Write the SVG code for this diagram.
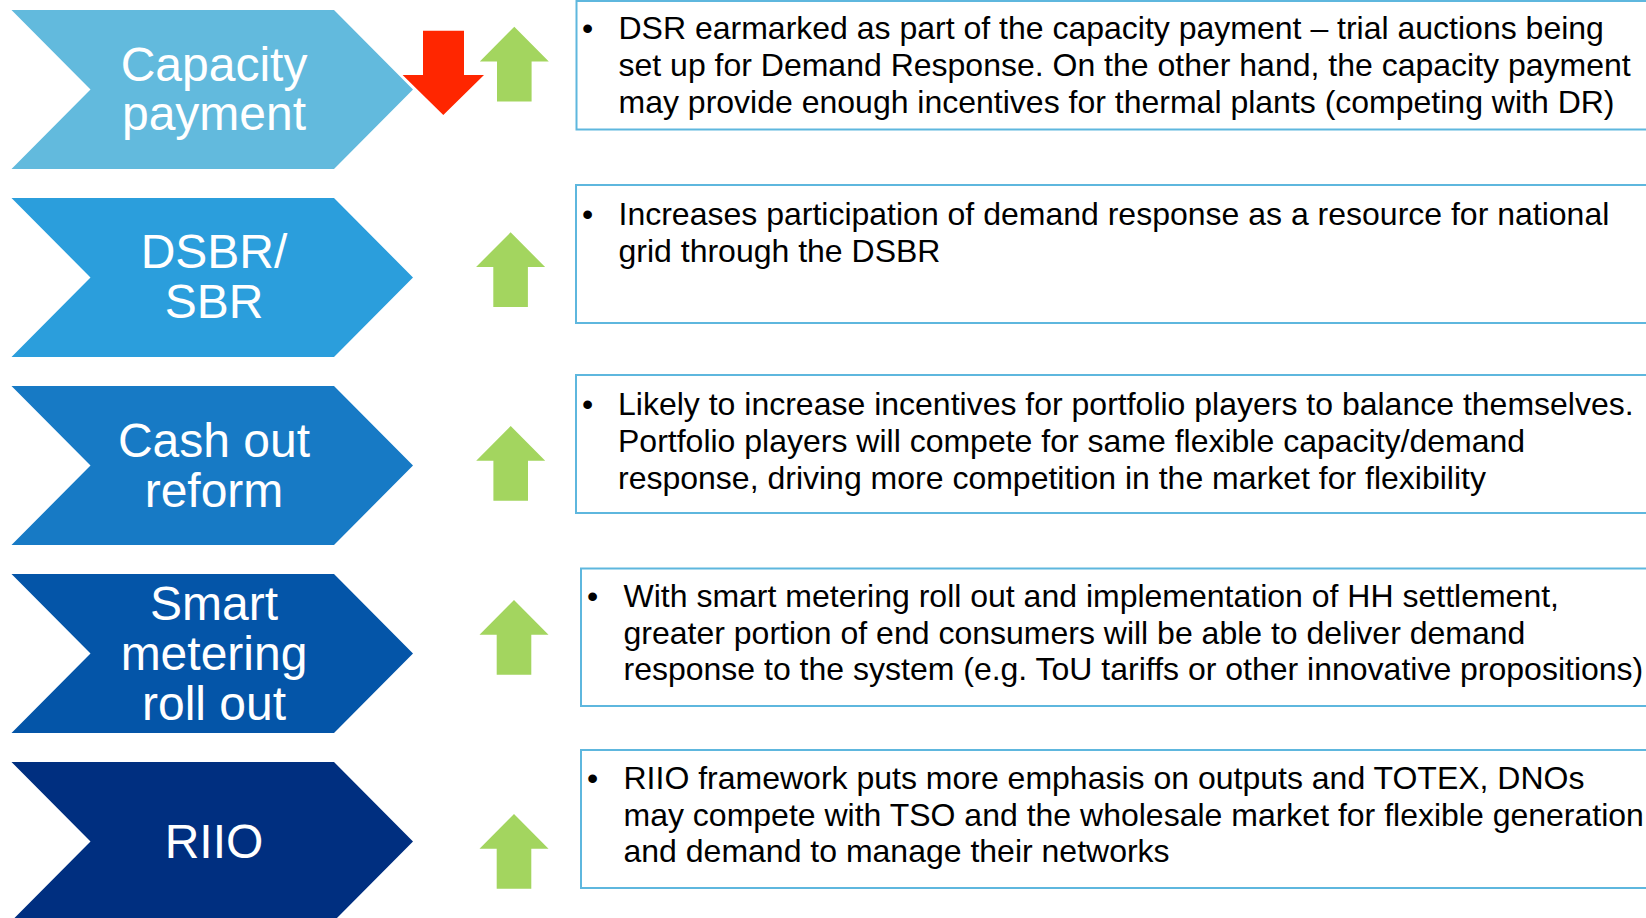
<svg xmlns="http://www.w3.org/2000/svg" xmlns:xlink="http://www.w3.org/1999/xlink" width="1646" height="918" viewBox="0 0 1646 918">
  <style>
    .lbl { font-family: "Liberation Sans", Arial, sans-serif; font-size: 48px; fill: #FFFFFF; text-anchor: middle; }
    .box { fill: #FFFFFF; stroke: #5EB7DE; stroke-width: 2; }
    .txt { font-family: "Liberation Sans", Arial, sans-serif; font-size: 32px; fill: #000000; }
    .up { fill: #A3D55F; }
    .down { fill: #FF2600; }
  </style>
  <defs>
    <path id="chev" d="M11.5,0 L334,0 L413,79.5 L334,159 L11.5,159 L90.5,79.5 Z"/>
    <path id="uparrow" d="M0,0 L34.5,34.7 L17.3,34.7 L17.3,74.7 L-17.3,74.7 L-17.3,34.7 L-34.5,34.7 Z"/>
  </defs>
  <rect width="1646" height="918" fill="#FFFFFF"/>

  <g id="node-capacity">
    <use xlink:href="#chev" href="#chev" x="0" y="10" fill="#62BADD"/>
    <text class="lbl" x="214" y="81">Capacity</text>
    <text class="lbl" x="214" y="130">payment</text>
  </g>
  <g id="node-dsbr">
    <use xlink:href="#chev" href="#chev" x="0" y="198" fill="#2B9EDC"/>
    <text class="lbl" x="214" y="268">DSBR/</text>
    <text class="lbl" x="214" y="318">SBR</text>
  </g>
  <g id="node-cashout">
    <use xlink:href="#chev" href="#chev" x="0" y="386" fill="#177AC5"/>
    <text class="lbl" x="214" y="457">Cash out</text>
    <text class="lbl" x="214" y="507">reform</text>
  </g>
  <g id="node-smart">
    <use xlink:href="#chev" href="#chev" x="0" y="574" fill="#0455A8"/>
    <text class="lbl" x="214" y="620">Smart</text>
    <text class="lbl" x="214" y="670">metering</text>
    <text class="lbl" x="214" y="720">roll out</text>
  </g>
  <g id="node-riio">
    <use xlink:href="#chev" href="#chev" x="0" y="762" fill="#002F80"/>
    <text class="lbl" x="214" y="858">RIIO</text>
  </g>

  <g id="arrow-down-capacity">
    <path class="down" d="M423,30.7 H464 V75 H484 L443.3,115 L402.6,75 H423 Z"/>
  </g>
  <g id="arrow-up-capacity"><use xlink:href="#uparrow" href="#uparrow" class="up" x="514.3" y="26.7"/></g>
  <g id="arrow-up-dsbr"><use xlink:href="#uparrow" href="#uparrow" class="up" x="510.6" y="232.3"/></g>
  <g id="arrow-up-cashout"><use xlink:href="#uparrow" href="#uparrow" class="up" x="510.7" y="426"/></g>
  <g id="arrow-up-smart"><use xlink:href="#uparrow" href="#uparrow" class="up" x="514" y="600"/></g>
  <g id="arrow-up-riio"><use xlink:href="#uparrow" href="#uparrow" class="up" x="514" y="814"/></g>

  <g id="box-capacity">
    <rect class="box" x="576.5" y="1" width="1090" height="128.5"/>
    <text class="txt" x="582" y="38.5">•</text>
    <text class="txt" x="618.5" y="38.5">DSR earmarked as part of the capacity payment – trial auctions being</text>
    <text class="txt" x="618.5" y="75.5">set up for Demand Response. On the other hand, the capacity payment</text>
    <text class="txt" x="618.5" y="112.5">may provide enough incentives for thermal plants (competing with DR)</text>
  </g>
  <g id="box-dsbr">
    <rect class="box" x="576" y="185" width="1090" height="138"/>
    <text class="txt" x="582" y="225">•</text>
    <text class="txt" x="618.5" y="225">Increases participation of demand response as a resource for national</text>
    <text class="txt" x="618.5" y="262">grid through the DSBR</text>
  </g>
  <g id="box-cashout">
    <rect class="box" x="576" y="375" width="1090" height="138"/>
    <text class="txt" x="582" y="415">•</text>
    <text class="txt" x="618" y="415">Likely to increase incentives for portfolio players to balance themselves.</text>
    <text class="txt" x="618" y="452">Portfolio players will compete for same flexible capacity/demand</text>
    <text class="txt" x="618" y="489">response, driving more competition in the market for flexibility</text>
  </g>
  <g id="box-smart">
    <rect class="box" x="581" y="568.5" width="1090" height="137.5"/>
    <text class="txt" x="587" y="607">•</text>
    <text class="txt" x="623.5" y="607">With smart metering roll out and implementation of HH settlement,</text>
    <text class="txt" x="623.5" y="643.5">greater portion of end consumers will be able to deliver demand</text>
    <text class="txt" x="623.5" y="680">response to the system (e.g. ToU tariffs or other innovative propositions)</text>
  </g>
  <g id="box-riio">
    <rect class="box" x="581" y="750" width="1090" height="138"/>
    <text class="txt" x="587" y="789">•</text>
    <text class="txt" x="623.5" y="789">RIIO framework puts more emphasis on outputs and TOTEX, DNOs</text>
    <text class="txt" x="623.5" y="826">may compete with TSO and the wholesale market for flexible generation</text>
    <text class="txt" x="623.5" y="862">and demand to manage their networks</text>
  </g>

  <g id="connectors"/>
</svg>
